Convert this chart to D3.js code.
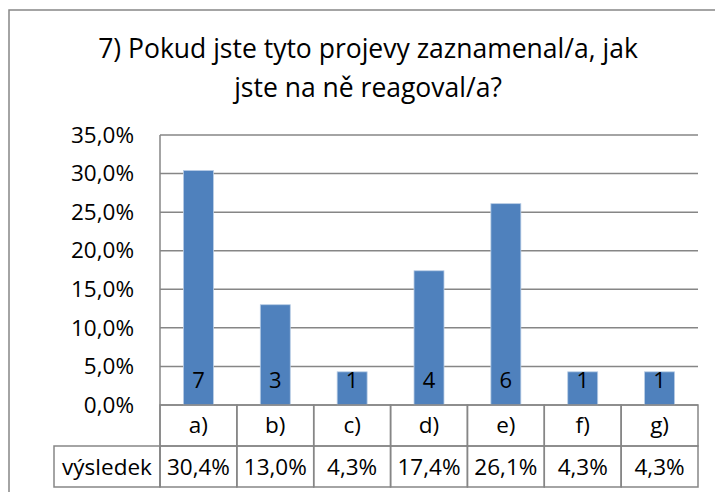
<!DOCTYPE html>
<meta charset="utf-8">
<script src="https://cdnjs.cloudflare.com/ajax/libs/d3/7.8.5/d3.min.js"></script>
<style>
body { margin: 0; background: #fff; }
text { font-family: "Open Sans", "Liberation Sans", sans-serif; fill: #000; }
.grid line { stroke: #868686; stroke-width: 1.5px; }
.cell { fill: none; stroke: #868686; stroke-width: 1.5px; }
</style>
<body>
<script>

var width = 715,
    height = 492;

// data
var titleLines = ["7) Pokud jste tyto projevy zaznamenal/a, jak", "jste na ně reagoval/a?"];
var categories = ["a)", "b)", "c)", "d)", "e)", "f)", "g)"];
var percents = [30.4, 13.0, 4.3, 17.4, 26.1, 4.3, 4.3];
var counts = [7, 3, 1, 4, 6, 1, 1];
var ticks = [0, 5, 10, 15, 20, 25, 30, 35];
var seriesName = "výsledek";

var plot = {left: 160, right: 698, top: 135, bottom: 405},
    rowH = 41;

var fmt = function(v) { return d3.format(".1f")(v).replace(".", ",") + "%"; };

var svg = d3.select("body").append("svg")
    .attr("width", width)
    .attr("height", height);

// chart border
svg.append("rect")
    .attr("x", 9).attr("y", 10)
    .attr("width", 800).attr("height", 600)
    .attr("fill", "#fff")
    .attr("stroke", "#878787")
    .attr("stroke-width", 1.5);

// title
svg.append("text")
    .attr("text-anchor", "middle")
    .style("font-size", "26.5px")
  .selectAll("tspan")
    .data(titleLines)
  .enter().append("tspan")
    .attr("x", 368)
    .attr("y", function(d, i) { return 58 + i * 39; })
    .text(function(d) { return d; });

var x = d3.scaleBand()
    .domain(categories)
    .range([plot.left, plot.right])
    .paddingInner(0.61)
    .paddingOuter(0.305);

var cols = d3.scaleBand()
    .domain(categories)
    .range([plot.left, plot.right]);

var y = d3.scaleLinear()
    .domain([0, 35])
    .range([plot.bottom, plot.top]);

// gridlines
svg.append("g")
    .attr("class", "grid")
  .selectAll("line")
    .data(ticks)
  .enter().append("line")
    .attr("x1", plot.left).attr("x2", plot.right)
    .attr("y1", function(d) { return y(d); })
    .attr("y2", function(d) { return y(d); });

svg.append("line")
    .attr("x1", plot.left).attr("x2", plot.left)
    .attr("y1", plot.top).attr("y2", plot.bottom + 2 * rowH)
    .attr("stroke", "#868686").attr("stroke-width", 1.5);

// y axis labels
var yAxis = d3.axisLeft(y)
    .tickValues(ticks)
    .tickSize(0)
    .tickPadding(26)
    .tickFormat(fmt);

var ya = svg.append("g")
    .attr("transform", "translate(" + plot.left + ",0)")
    .call(yAxis);
ya.select(".domain").remove();
ya.selectAll("text")
    .style("font-size", "22.5px")
    .style("font-family", "'Open Sans', sans-serif");

// bars
svg.append("g")
  .selectAll("rect")
    .data(percents)
  .enter().append("rect")
    .attr("x", function(d, i) { return x(categories[i]); })
    .attr("y", function(d) { return y(d); })
    .attr("width", x.bandwidth())
    .attr("height", function(d) { return y(0) - y(d); })
    .attr("fill", "#4f81bd")
    .attr("stroke", "#b9cde5")
    .attr("stroke-width", 0.8);

// count labels
svg.append("g")
  .selectAll("text")
    .data(counts)
  .enter().append("text")
    .attr("x", function(d, i) { return x(categories[i]) + x.bandwidth() / 2; })
    .attr("y", 388)
    .attr("text-anchor", "middle")
    .style("font-size", "22px")
    .text(function(d) { return d; });

// data table
var table = svg.append("g");

table.selectAll("rect.cat")
    .data(categories)
  .enter().append("rect")
    .attr("class", "cell")
    .attr("x", function(d) { return cols(d); })
    .attr("y", plot.bottom)
    .attr("width", cols.bandwidth())
    .attr("height", rowH);

table.selectAll("rect.val")
    .data(categories)
  .enter().append("rect")
    .attr("class", "cell")
    .attr("x", function(d) { return cols(d); })
    .attr("y", plot.bottom + rowH)
    .attr("width", cols.bandwidth())
    .attr("height", rowH);

table.append("rect")
    .attr("class", "cell")
    .attr("x", 54)
    .attr("y", plot.bottom + rowH)
    .attr("width", plot.left - 54)
    .attr("height", rowH);

table.selectAll("text.cat")
    .data(categories)
  .enter().append("text")
    .attr("x", function(d) { return cols(d) + cols.bandwidth() / 2; })
    .attr("y", plot.bottom + 28)
    .attr("text-anchor", "middle")
    .style("font-size", "22.5px")
    .text(function(d) { return d; });

table.selectAll("text.val")
    .data(percents)
  .enter().append("text")
    .attr("x", function(d, i) { return cols(categories[i]) + cols.bandwidth() / 2; })
    .attr("y", plot.bottom + rowH + 29)
    .attr("text-anchor", "middle")
    .style("font-size", "22.5px")
    .text(fmt);

table.append("text")
    .attr("x", (54 + plot.left) / 2)
    .attr("y", plot.bottom + rowH + 29)
    .attr("text-anchor", "middle")
    .style("font-size", "22.5px")
    .text(seriesName);

</script>
